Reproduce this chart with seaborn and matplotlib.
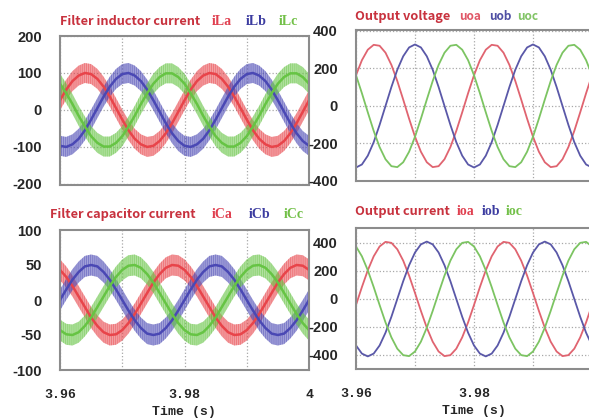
import numpy as np
import pandas as pd
import matplotlib
matplotlib.use('Agg')
import matplotlib.pyplot as plt
import seaborn as sns

# sample times (s)
time_s = [3.960, 3.961, 3.962, 3.963, 3.964, 3.965, 3.966, 3.967, 3.968, 3.969,
          3.970, 3.971, 3.972, 3.973, 3.974, 3.975, 3.976, 3.977, 3.978, 3.979,
          3.980, 3.981, 3.982, 3.983, 3.984, 3.985, 3.986, 3.987, 3.988, 3.989,
          3.990, 3.991, 3.992, 3.993, 3.994, 3.995, 3.996, 3.997, 3.998, 3.999,
          4.000]

# filter inductor current (A), centre of the ripple band
il_a = [26, 55, 78, 93, 100, 97, 84, 63, 36, 5, -26, -55, -78, -93, -100, -97, -84, -63, -36, -5,
        26, 55, 78, 93, 100, 97, 84, 63, 36, 5, -26, -55, -78, -93, -100, -97, -84, -63, -36, -5, 26]
il_b = [-97, -100, -93, -78, -55, -26, 5, 36, 63, 84, 97, 100, 93, 78, 55, 26, -5, -36, -63, -84,
        -97, -100, -93, -78, -55, -26, 5, 36, 63, 84, 97, 100, 93, 78, 55, 26, -5, -36, -63, -84, -97]
il_c = [71, 45, 16, -16, -45, -71, -89, -99, -99, -89, -71, -45, -16, 16, 45, 71, 89, 99, 99, 89,
        71, 45, 16, -16, -45, -71, -89, -99, -99, -89, -71, -45, -16, 16, 45, 71, 89, 99, 99, 89, 71]

# filter capacitor current (A)
ic_a = [43, 33, 20, 5, -10, -25, -37, -46, -50, -49, -43, -33, -20, -5, 10, 25, 37, 46, 50, 49,
        43, 33, 20, 5, -10, -25, -37, -46, -50, -49, -43, -33, -20, -5, 10, 25, 37, 46, 50, 49, 43]
ic_b = [0, 15, 29, 40, 48, 50, 48, 40, 29, 15, 0, -15, -29, -40, -48, -50, -48, -40, -29, -15,
        0, 15, 29, 40, 48, 50, 48, 40, 29, 15, 0, -15, -29, -40, -48, -50, -48, -40, -29, -15, 0]
ic_c = [-43, -49, -50, -46, -37, -25, -10, 5, 20, 33, 43, 49, 50, 46, 37, 25, 10, -5, -20, -33,
        -43, -49, -50, -46, -37, -25, -10, 5, 20, 33, 43, 49, 50, 46, 37, 25, 10, -5, -20, -33, -43]

# output voltage (V)
uo_a = [164, 244, 300, 326, 321, 284, 219, 133, 34, -68, -164, -244, -300, -326, -321, -284, -219, -133, -34, 68,
        164, 244, 300, 326, 321, 284, 219, 133, 34, -68, -164, -244, -300, -326, -321, -284, -219, -133, -34, 68, 164]
uo_b = [-328, -312, -265, -193, -101, 0, 101, 193, 265, 312, 328, 312, 265, 193, 101, 0, -101, -193, -265, -312,
        -328, -312, -265, -193, -101, 0, 101, 193, 265, 312, 328, 312, 265, 193, 101, 0, -101, -193, -265, -312, -328]
uo_c = [164, 68, -34, -133, -219, -284, -321, -326, -300, -244, -164, -68, 34, 133, 219, 284, 321, 326, 300, 244,
        164, 68, -34, -133, -219, -284, -321, -326, -300, -244, -164, -68, 34, 133, 219, 284, 321, 326, 300, 244, 164]

# output current (A)
io_a = [-43, 85, 205, 305, 375, 408, 401, 355, 274, 167, 43, -85, -205, -305, -375, -408, -401, -355, -274, -167,
        -43, 85, 205, 305, 375, 408, 401, 355, 274, 167, 43, -85, -205, -305, -375, -408, -401, -355, -274, -167, -43]
io_b = [-332, -390, -410, -390, -332, -241, -127, 0, 127, 241, 332, 390, 410, 390, 332, 241, 127, 0, -127, -241,
        -332, -390, -410, -390, -332, -241, -127, 0, 127, 241, 332, 390, 410, 390, 332, 241, 127, 0, -127, -241, -332]
io_c = [375, 305, 205, 85, -43, -167, -274, -355, -401, -408, -375, -305, -205, -85, 43, 167, 274, 355, 401, 408,
        375, 305, 205, 85, -43, -167, -274, -355, -401, -408, -375, -305, -205, -85, 43, 167, 274, 355, 401, 408, 375]

x_ticks = [3.96, 3.97, 3.98, 3.99, 4.0]
x_labels_left = ['3.96', '', '3.98', '', '4']
x_labels_right = ['3.96', '', '3.98', '', '']

BAND = ['#e8444a', '#4a48b4', '#66c444']
THIN = ['#e06470', '#5a58a8', '#7cc462']
W, H = 589, 420

sns.set_style('white')
plt.rcParams['hatch.linewidth'] = 0.7
fig = plt.figure(figsize=(W / 100, H / 100), dpi=100)


def px_axes(x0, y0, x1, y1):
    return fig.add_axes([x0 / W, 1 - y1 / H, (x1 - x0) / W, (y1 - y0) / H])


def draw_panel(ax, series, colors, ylim, yticks, ripple=0, hgrid=True, xlabels=None):
    df = pd.DataFrame({
        't': time_s * 3,
        'v': series[0] + series[1] + series[2],
        'phase': ['a'] * len(time_s) + ['b'] * len(time_s) + ['c'] * len(time_s),
    })
    ax.grid(True, axis='both' if hgrid else 'x', ls=':', color='#a8a8a8', lw=0.9)
    if ripple:
        # switching ripple drawn as a faintly hatched band around each phase
        for vals, c in zip(series, colors):
            v = np.array(vals)
            ax.fill_between(time_s, v - ripple, v + ripple,
                            facecolor=matplotlib.colors.to_rgba(c, 0.5),
                            edgecolor=matplotlib.colors.to_rgba(c, 0.45),
                            hatch='||||||||', lw=0)
        lw = 1.8
    else:
        lw = 1.3
    sns.lineplot(data=df, x='t', y='v', hue='phase', palette=colors, ax=ax,
                 legend=False, lw=lw, estimator=None, sort=False)
    ax.set_xlim(3.96, 4.0)
    ax.set_ylim(*ylim)
    ax.set_xticks(x_ticks)
    ax.set_yticks(yticks)
    ax.set_yticklabels([str(v) for v in yticks], fontsize=10.5, fontweight='bold',
                       family=['Liberation Sans Narrow', 'Liberation Sans'])
    if xlabels:
        ax.set_xticklabels(xlabels, fontsize=9.5, fontweight='bold', family='Liberation Mono')
        ax.set_xlabel('Time (s)', fontsize=9.5, fontweight='bold', family='Liberation Mono', labelpad=3)
    else:
        ax.set_xticklabels([])
        ax.set_xlabel('')
    ax.set_ylabel('')
    ax.tick_params(length=0, pad=13)
    ax.tick_params(axis='x', pad=14)
    for s in ax.spines.values():
        s.set_color('#8c8c8c')
        s.set_linewidth(1.5)
    ax.set_axisbelow(True)


ax_tl = px_axes(60, 36, 309, 185)
draw_panel(ax_tl, [il_a, il_b, il_c], BAND, (-203, 200), [200, 100, 0, -100, -200], ripple=27)
ax_bl = px_axes(60, 230, 309, 370)
draw_panel(ax_bl, [ic_a, ic_b, ic_c], BAND, (-100, 100), [100, 50, 0, -50, -100],
           ripple=15, hgrid=False, xlabels=x_labels_left)
ax_tr = px_axes(356, 30, 592, 181)
draw_panel(ax_tr, [uo_a, uo_b, uo_c], THIN, (-400, 405), [400, 200, 0, -200, -400])
ax_br = px_axes(356, 228, 592, 369)
draw_panel(ax_br, [io_a, io_b, io_c], THIN, (-500, 507), [400, 200, 0, -200, -400],
           xlabels=x_labels_right)

TITLE_RED = '#c8323e'


def label(x, y, s, color, **kw):
    fig.text(x / W, 1 - y / H, s, color=color, va='baseline', ha='left', **kw)


title_kw = dict(fontsize=9.2, fontweight='bold', family='Noto Sans CJK SC')
sym_kw = dict(fontsize=10, fontweight='bold', family='Liberation Serif')
small_kw = dict(fontsize=8.5, fontweight='bold', family='Noto Sans CJK SC')

label(60, 25, 'Filter inductor current', TITLE_RED, **title_kw)
label(212, 25, 'iLa', '#e04050', **sym_kw)
label(246, 25, 'iLb', '#3c3ca0', **sym_kw)
label(279, 25, 'iLc', '#72c048', **sym_kw)

label(355, 20, 'Output voltage', TITLE_RED, **title_kw)
label(459, 20, 'uoa', '#e05868', **small_kw)
label(489, 20, 'uob', '#5050a4', **small_kw)
label(517, 20, 'uoc', '#82c466', **small_kw)

label(50, 218, 'Filter capacitor current', TITLE_RED, **title_kw)
label(212, 218, 'iCa', '#e04050', **sym_kw)
label(249, 218, 'iCb', '#3c3ca0', **sym_kw)
label(284, 218, 'iCc', '#72c048', **sym_kw)

label(355, 215, 'Output current', TITLE_RED, **title_kw)
label(457, 215, 'ioa', '#e04050', **sym_kw)
label(482, 215, 'iob', '#3c3ca0', **sym_kw)
label(506, 215, 'ioc', '#72c048', **sym_kw)

fig.savefig('out.png', dpi=100)
